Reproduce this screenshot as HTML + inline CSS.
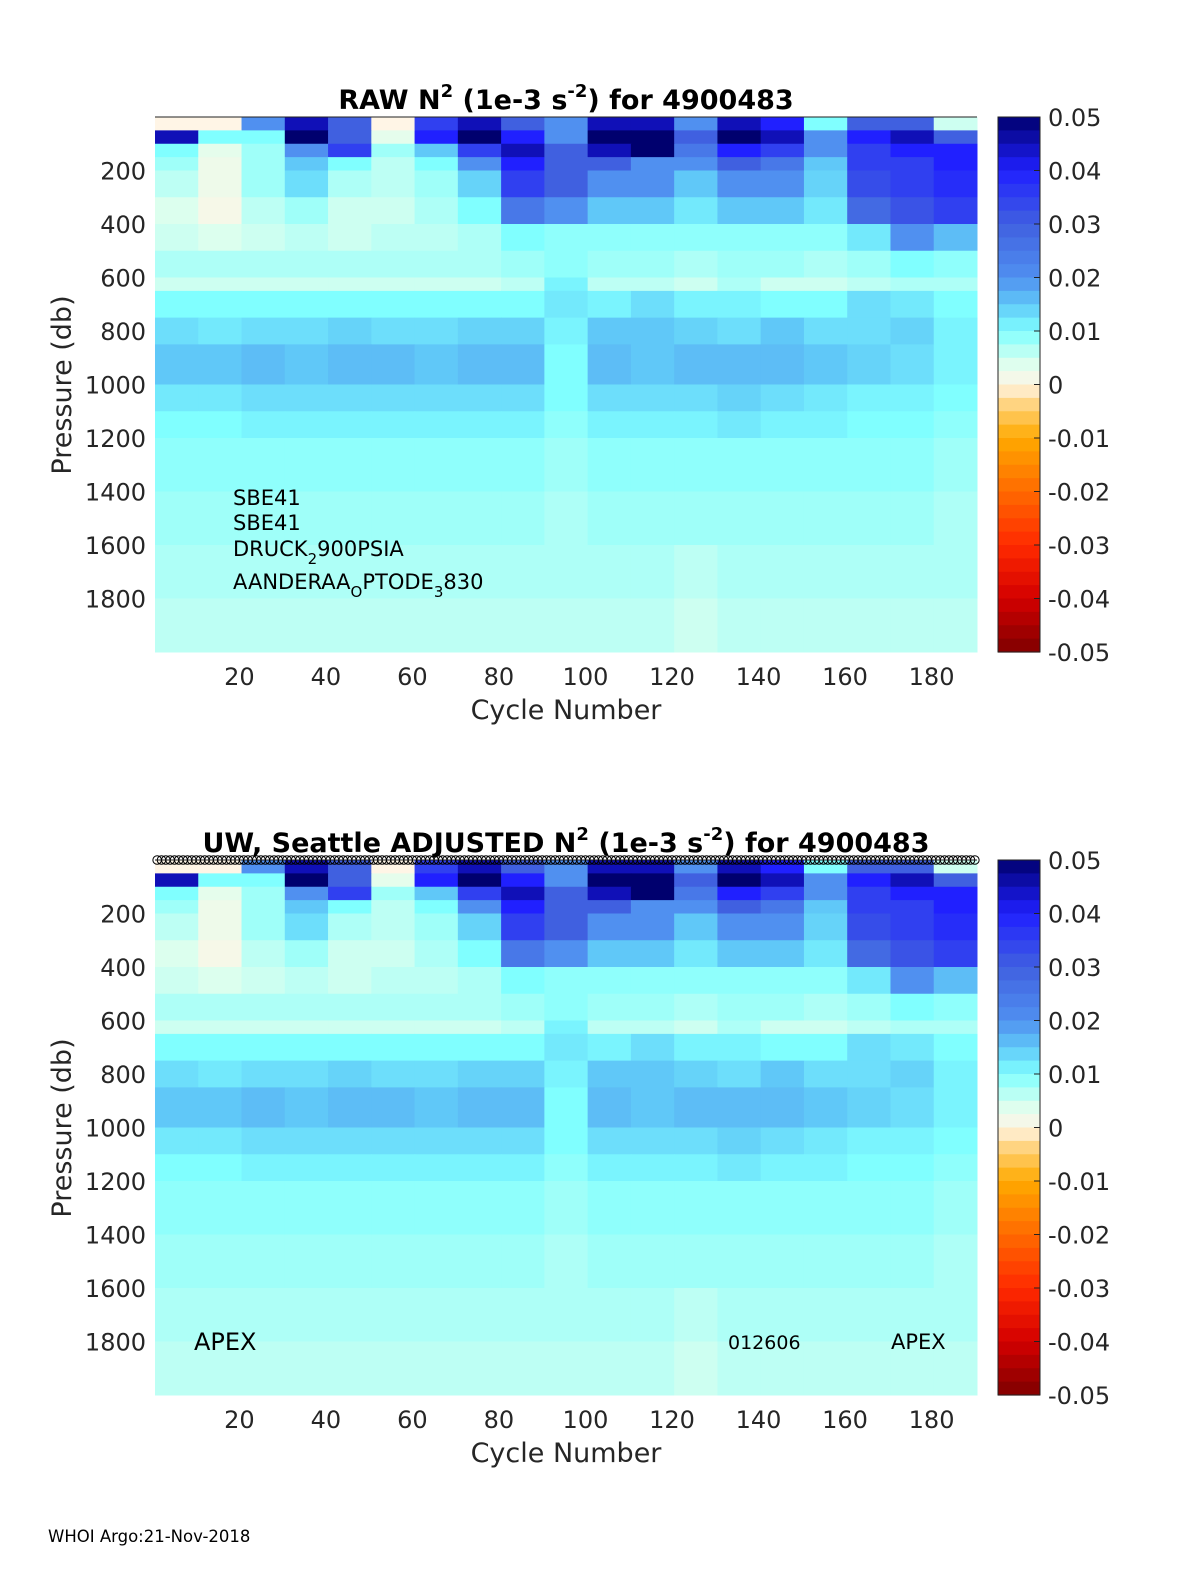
<!DOCTYPE html>
<html><head><meta charset="utf-8"><style>
body{margin:0;background:#fff;}
svg{display:block;font-family:"DejaVu Sans","Liberation Sans",sans-serif;}
</style></head><body>
<svg id="fig" width="1200" height="1575" viewBox="0 0 1200 1575" xmlns="http://www.w3.org/2000/svg">
<rect width="1200" height="1575" fill="#fff"/>
</svg>
<script>
// ---- data ----
const cycleGroupStarts = [1,11,21,31,41,51,61,71,81,91,101,111,121,131,141,151,161,171,181];
const cycleGroupWidth = 10;
const depthEdges = [0,50,100,150,200,300,400,500,600,650,750,850,1000,1100,1200,1400,1600,1800,2000];
const n2Rows = [
 [0,0,0.02,0.045,0.03,0,0.035,0.045,0.03,0.02,0.045,0.045,0.02,0.045,0.04,0.01,0.03,0.03,0.005],
 [0.045,0.01,0.01,0.05,0.03,0.003,0.04,0.05,0.04,0.02,0.05,0.05,0.03,0.05,0.045,0.02,0.04,0.045,0.03],
 [0.01,0.003,0.008,0.02,0.035,0.008,0.015,0.035,0.045,0.03,0.045,0.05,0.025,0.04,0.035,0.02,0.035,0.04,0.04],
 [0.008,0.002,0.008,0.015,0.01,0.006,0.01,0.02,0.04,0.03,0.03,0.02,0.02,0.03,0.025,0.015,0.035,0.035,0.04],
 [0.006,0.002,0.008,0.013,0.007,0.006,0.008,0.014,0.035,0.03,0.02,0.02,0.015,0.02,0.02,0.014,0.033,0.035,0.038],
 [0.004,0.001,0.006,0.008,0.005,0.005,0.007,0.01,0.025,0.02,0.015,0.015,0.012,0.015,0.015,0.012,0.028,0.032,0.035],
 [0.005,0.004,0.005,0.006,0.005,0.006,0.006,0.007,0.01,0.009,0.009,0.009,0.009,0.009,0.009,0.009,0.012,0.02,0.016],
 [0.007,0.007,0.007,0.007,0.007,0.007,0.007,0.007,0.008,0.009,0.008,0.008,0.007,0.008,0.008,0.007,0.008,0.01,0.009],
 [0.005,0.005,0.005,0.005,0.005,0.005,0.005,0.005,0.006,0.011,0.006,0.006,0.005,0.007,0.005,0.005,0.006,0.007,0.007],
 [0.01,0.01,0.01,0.01,0.01,0.01,0.01,0.01,0.01,0.012,0.011,0.013,0.011,0.011,0.01,0.01,0.013,0.012,0.01],
 [0.013,0.012,0.013,0.013,0.014,0.013,0.013,0.014,0.014,0.011,0.015,0.015,0.014,0.013,0.015,0.013,0.013,0.014,0.011],
 [0.015,0.015,0.016,0.015,0.016,0.016,0.015,0.016,0.016,0.01,0.016,0.015,0.016,0.016,0.016,0.015,0.014,0.013,0.011],
 [0.012,0.012,0.013,0.013,0.013,0.013,0.013,0.013,0.013,0.01,0.013,0.013,0.013,0.014,0.013,0.012,0.011,0.011,0.01],
 [0.01,0.01,0.011,0.011,0.011,0.011,0.011,0.011,0.011,0.009,0.011,0.011,0.011,0.012,0.011,0.011,0.01,0.01,0.009],
 [0.009,0.009,0.009,0.009,0.009,0.009,0.009,0.009,0.009,0.008,0.009,0.009,0.009,0.009,0.009,0.009,0.009,0.009,0.008],
 [0.008,0.008,0.008,0.008,0.008,0.008,0.008,0.008,0.008,0.007,0.008,0.008,0.008,0.008,0.008,0.008,0.008,0.008,0.007],
 [0.007,0.007,0.007,0.007,0.007,0.007,0.007,0.007,0.007,0.007,0.007,0.007,0.006,0.007,0.007,0.007,0.007,0.007,0.007],
 [0.006,0.006,0.006,0.006,0.006,0.006,0.006,0.006,0.006,0.006,0.006,0.006,0.005,0.006,0.006,0.006,0.006,0.006,0.006]
];
const xTicks = [20,40,60,80,100,120,140,160,180];
const yTicks = [200,400,600,800,1000,1200,1400,1600,1800];
const cbTicks = [0.05,0.04,0.03,0.02,0.01,0,-0.01,-0.02,-0.03,-0.04,-0.05];
const cmapVals = [-0.05,-0.04,-0.03,-0.02,-0.01,-0.004,0,0.004,0.01,0.015,0.02,0.03,0.04,0.05];
const cmapCols = ["#7f0000","#d40000","#ff2a00","#ff6a00","#ffaa00","#ffd27a","#fff5e6","#dcffee","#80ffff","#60c8f8","#5090f0","#4060e0","#2020ff","#00006e"];
const cycles = 190;

const NS="http://www.w3.org/2000/svg";
const svg=document.getElementById('fig');
function mk(tag,attrs,parent){const e=document.createElementNS(NS,tag);for(const k in attrs)e.setAttribute(k,attrs[k]);(parent||svg).appendChild(e);return e;}
function hex(c){return [parseInt(c.slice(1,3),16),parseInt(c.slice(3,5),16),parseInt(c.slice(5,7),16)];}
function cmap(v){
  if(v<=cmapVals[0])return cmapCols[0];
  for(let i=1;i<cmapVals.length;i++){if(v<=cmapVals[i]){const t=(v-cmapVals[i-1])/(cmapVals[i]-cmapVals[i-1]);const a=hex(cmapCols[i-1]),b=hex(cmapCols[i]);return 'rgb('+a.map((x,j)=>Math.round(x+(b[j]-x)*t)).join(',')+')';}}
  return cmapCols[cmapCols.length-1];
}
const X0=155,X1=977,cMin=0.5,cMax=190.5;
function xs(c){return X0+(c-cMin)/(cMax-cMin)*(X1-X0);}

function panel(top,title,suffix){
  const bot=top+535;
  const ys=p=>top+(p-0)/(2000-0)*(bot-top);
  const g=mk('g',{});
  
  
  const hm=mk('g',{},g);
  
  
  for(let r=0;r<n2Rows.length;r++){
    for(let c=0;c<cycleGroupStarts.length;c++){
      const x=xs(cycleGroupStarts[c]-0.5), w=xs(cycleGroupStarts[c]-0.5+cycleGroupWidth)-x;
      const y=ys(depthEdges[r]), h=ys(depthEdges[r+1])-y;
      const rc=mk('rect',{x:x.toFixed(2),y:y.toFixed(2),width:(w+0.5).toFixed(2),height:(h+0.5).toFixed(2),fill:cmap(n2Rows[r][c])},hm);
      
      
    }
  }
  mk('line',{x1:X0,y1:top,x2:X1,y2:top,stroke:'#222','stroke-width':1},g);
  xTicks.forEach(t=>{const x=xs(t);
    const tx=mk('text',{x:x,y:bot+33,'font-size':24,'text-anchor':'middle',fill:'#262626'},g);tx.textContent=t;
    
    });
  yTicks.forEach(t=>{const y=ys(t);
    const tx=mk('text',{x:146,y:y+9,'font-size':24,'text-anchor':'end',fill:'#262626'},g);tx.textContent=t;
    
    });
  const xl=mk('text',{x:566,y:bot+67,'font-size':27,'text-anchor':'middle',fill:'#262626'},g);xl.textContent='Cycle Number';
  
  
  const yl=mk('text',{x:0,y:0,'font-size':27,'text-anchor':'middle',fill:'#262626',transform:'translate(71,'+(top+268)+') rotate(-90)'},g);yl.textContent='Pressure (db)';
  
  
  const tt=mk('text',{x:566,y:top-8,'font-size':27,'font-weight':'bold','text-anchor':'middle',fill:'#000'},g);
  tt.innerHTML=title;
  
  
  const cb=mk('g',{},g);
  
  
  const n=40;
  for(let i=0;i<n;i++){
    const v=0.05-(i+0.5)*0.1/n;
    mk('rect',{x:998,y:(top+i*(bot-top)/n).toFixed(2),width:42,height:((bot-top)/n+0.6).toFixed(2),fill:cmap(v)},cb);
  }
  mk('rect',{x:998,y:top,width:42,height:bot-top,fill:'none',stroke:'#222','stroke-width':1},cb);
  cbTicks.forEach(t=>{const y=top+(0.05-t)/0.1*(bot-top);
    mk('line',{x1:1034,y1:y,x2:1040,y2:y,stroke:'#222'},cb);
    const tx=mk('text',{x:1048,y:y+9,'font-size':24,fill:'#262626'},cb);tx.textContent=String(t);
    
    });
  return {top,bot,ys,g};
}
panel(117,'RAW N<tspan font-size="18" dy="-12">2</tspan><tspan dy="12"> (1e-3 s</tspan><tspan font-size="18" dy="-12">-2</tspan><tspan dy="12">) for 4900483</tspan>','raw');
panel(860,'UW, Seattle  ADJUSTED N<tspan font-size="18" dy="-12">2</tspan><tspan dy="12"> (1e-3 s</tspan><tspan font-size="18" dy="-12">-2</tspan><tspan dy="12">) for 4900483</tspan>','adjusted');

const ann=mk('text',{x:233,y:505,'font-size':21,fill:'#000'});
ann.innerHTML='<tspan x="233" y="505">SBE41</tspan><tspan x="233" y="530">SBE41</tspan><tspan x="233" y="556">DRUCK<tspan font-size="15" dy="8">2</tspan><tspan dy="-8">900PSIA</tspan></tspan><tspan x="233" y="589">AANDERAA<tspan font-size="15" dy="8">O</tspan><tspan dy="-8">PTODE</tspan><tspan font-size="15" dy="8">3</tspan><tspan dy="-8">830</tspan></tspan>';



const cg=mk('g',{});


for(let c=1;c<=cycles;c++){
  const ci=mk('circle',{cx:xs(c).toFixed(2),cy:860,r:4.3,fill:'none',stroke:'#000','stroke-width':1},cg);
  
  
}
[['APEX',194,1350,24],['012606',728,1349,19],['APEX',891,1349,21]].forEach(a=>{
  const t=mk('text',{x:a[1],y:a[2],'font-size':a[3],fill:'#000'});t.textContent=a[0];
  
  
});
const ft=mk('text',{x:48,y:1542,'font-size':16.5,fill:'#000'});ft.textContent='WHOI Argo:21-Nov-2018';


</script>
</body></html>
